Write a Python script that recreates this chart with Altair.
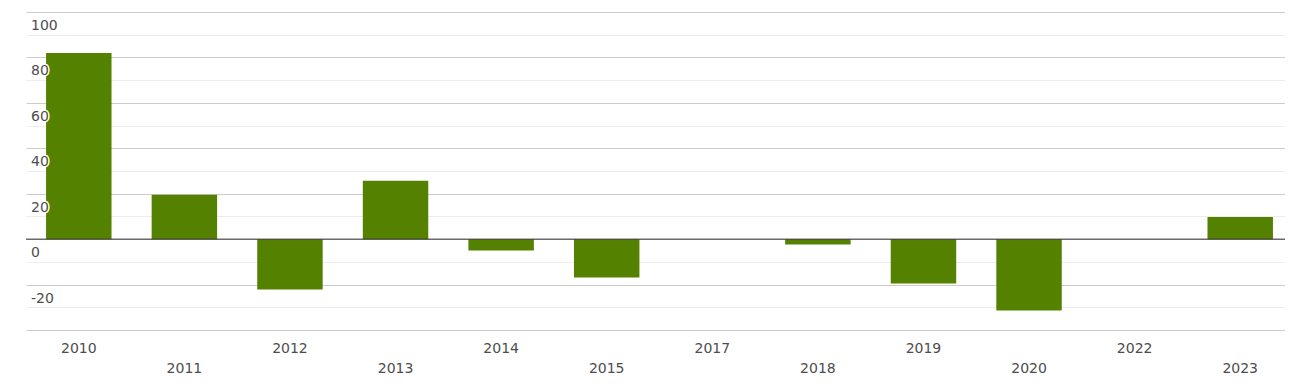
import altair as alt
import pandas as pd

years = ["2010", "2011", "2012", "2013", "2014", "2015", "2017", "2018", "2019", "2020", "2022", "2023"]
values = [82.0, 19.5, -22.2, 25.7, -5.0, -16.9, None, -2.4, -19.5, -31.4, None, 9.8]
y_tick_labels = [100, 80, 60, 40, 20, 0, -20]
lower_row = ["2011", "2013", "2015", "2018", "2020", "2023"]

df = pd.DataFrame({"year": years, "value": values})
ticks = pd.DataFrame({"v": y_tick_labels, "t": [str(v) for v in y_tick_labels]})

yscale = alt.Scale(domain=[-40, 100], nice=False, zero=False)
xscale = alt.Scale(domain=years, paddingInner=0.38, paddingOuter=0.19, range=[0, 1267])

label_expr = "indexof(" + str(lower_row) + ", datum.label) >= 0 ? ['', datum.label] : datum.label"

yaxis = alt.Axis(values=list(range(-40, 101, 10)), grid=True, labels=False,
                 ticks=False, domain=False, title=None,
                 gridColor={"condition": {"test": "datum.value % 20 === 0", "value": "#cccccc"},
                            "value": "#ececec"})

bars = alt.Chart(df).mark_bar(color="#548200").encode(
    x=alt.X("year:N", scale=xscale, sort=years, title=None,
            axis=alt.Axis(domain=False, ticks=False, labelAngle=0, labelPadding=11,
                          labelFont="DejaVu Sans", labelFontSize=14, labelColor="#4d4d4d",
                          labelLineHeight=20, labelExpr=label_expr, grid=False)),
    y=alt.Y("value:Q", scale=yscale, title=None, axis=yaxis),
)

zero = alt.Chart(pd.DataFrame({"value": [0]})).mark_rule(color="#333333", strokeWidth=1).encode(
    y=alt.Y("value:Q", scale=yscale, axis=yaxis, title=None)
)

halo = alt.Chart(ticks).mark_text(
    align="left", baseline="middle", dy=14, font="DejaVu Sans", fontSize=14,
    stroke="white", strokeWidth=3, strokeJoin="round", color="white"
).encode(x=alt.value(5), y=alt.Y("v:Q", scale=yscale, axis=yaxis, title=None), text="t:N")

labels = alt.Chart(ticks).mark_text(
    align="left", baseline="middle", dy=14, font="DejaVu Sans", fontSize=14, color="#4d4d4d"
).encode(x=alt.value(5), y=alt.Y("v:Q", scale=yscale, axis=yaxis, title=None), text="t:N")

chart = alt.layer(bars, zero, halo, labels).properties(
    width=1259, height=318,
    padding={"left": 18, "top": 4, "right": 0, "bottom": 50},
    autosize=alt.AutoSizeParams(type="none"),
).configure_view(stroke=None)

chart.save("out.html", embed_options={"renderer": "svg", "actions": False})
